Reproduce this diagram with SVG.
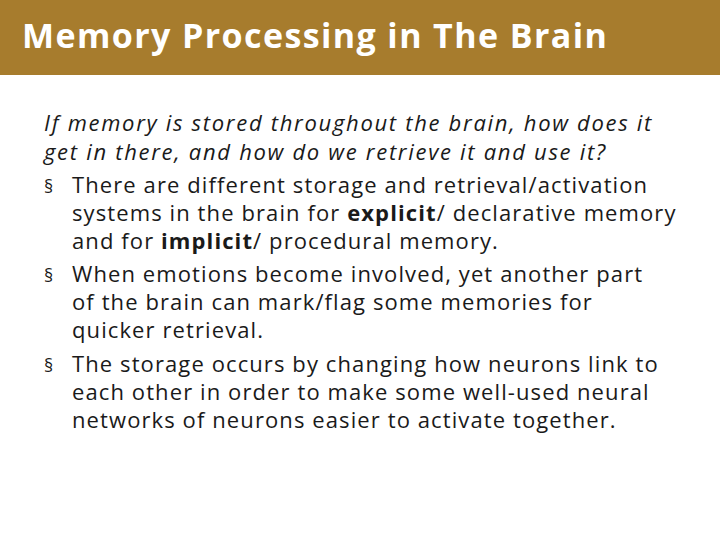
<svg xmlns="http://www.w3.org/2000/svg" width="720" height="540" viewBox="0 0 720 540">
<style>
.t{font-family:"Open Sans","Liberation Sans",sans-serif;font-size:22px;letter-spacing:1.1px;fill:#1a1a1a}
.i{font-style:italic;letter-spacing:1.7px}
.h{font-family:"Open Sans","Liberation Sans",sans-serif;font-size:34px;letter-spacing:1.4px;font-weight:bold;fill:#fff}
</style>
<rect width="720" height="540" fill="#fff"/>
<rect width="720" height="75" fill="#A77C2D"/>
<text class="h" x="22" y="48">Memory Processing in The Brain</text>
<g class="t">
<text class="i" x="44" y="131">If memory is stored throughout the brain, how does it</text>
<text class="i" x="44" y="160">get in there, and how do we retrieve it and use it?</text>
<text x="44" y="193" font-size="18">§</text><text x="72" y="193">There are different storage and retrieval/activation</text>
<text x="72" y="221">systems in the brain for <tspan font-weight="bold">explicit</tspan>/ declarative memory</text>
<text x="72" y="249">and for <tspan font-weight="bold">implicit</tspan>/ procedural memory.</text>
<text x="44" y="282" font-size="18">§</text><text x="72" y="282">When emotions become involved, yet another part</text>
<text x="72" y="310">of the brain can mark/flag some memories for</text>
<text x="72" y="338">quicker retrieval.</text>
<text x="44" y="372" font-size="18">§</text><text x="72" y="372">The storage occurs by changing how neurons link to</text>
<text x="72" y="400">each other in order to make some well-used neural</text>
<text x="72" y="428">networks of neurons easier to activate together.</text>
</g>
</svg>
